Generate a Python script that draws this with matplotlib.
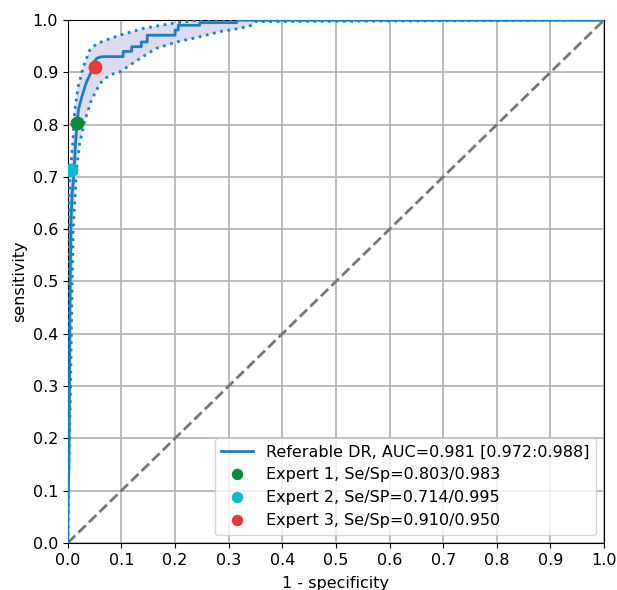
import matplotlib
matplotlib.use('Agg')
import matplotlib.pyplot as plt

# ROC curve
fpr = [0, 0.000, 0.002, 0.003, 0.004, 0.005, 0.006, 0.008, 0.010, 0.012, 0.014, 0.017,
       0.020, 0.026, 0.031, 0.035, 0.041, 0.045, 0.047, 0.054, 0.063, 0.103, 0.103,
       0.119, 0.119, 0.137, 0.137, 0.148, 0.148, 0.200, 0.200, 0.206, 0.206, 0.246,
       0.246, 0.315, 0.315, 1.0]
tpr = [0, 0.05, 0.15, 0.30, 0.45, 0.55, 0.62, 0.67, 0.69, 0.72, 0.76, 0.80,
       0.83, 0.853, 0.87, 0.882, 0.895, 0.905, 0.917, 0.927, 0.930, 0.930, 0.940,
       0.940, 0.949, 0.949, 0.958, 0.958, 0.971, 0.971, 0.981, 0.981, 0.990, 0.990,
       0.995, 0.995, 1.0, 1.0]

# confidence band
up_x = [0, 0.000, 0.002, 0.004, 0.009, 0.013, 0.019, 0.029, 0.041, 0.054, 0.072,
        0.097, 0.140, 0.197, 0.246, 1.0]
up_y = [0, 0.55, 0.637, 0.700, 0.764, 0.828, 0.872, 0.911, 0.943, 0.955, 0.962,
        0.971, 0.984, 0.994, 1.0, 1.0]
lo_x = [0, 0.001, 0.005, 0.008, 0.010, 0.015, 0.016, 0.022, 0.032, 0.044, 0.060,
        0.078, 0.097, 0.116, 0.140, 0.165, 0.203, 0.246, 0.284, 0.321, 0.343, 0.349, 1.0]
lo_y = [0, 0.10, 0.30, 0.50, 0.60, 0.694, 0.713, 0.764, 0.809, 0.847, 0.879,
        0.895, 0.901, 0.914, 0.930, 0.946, 0.958, 0.968, 0.978, 0.984, 0.990, 0.997, 1.0]

experts = ['Expert 1, Se/Sp=0.803/0.983', 'Expert 2, Se/SP=0.714/0.995',
           'Expert 3, Se/Sp=0.910/0.950']
exp_se = [0.803, 0.714, 0.910]
exp_sp = [0.983, 0.995, 0.950]
exp_col = ['#0a8a3c', '#12b8d2', '#e8383d']

blue = '#1a80c4'

fig = plt.figure(figsize=(6.17, 5.9), dpi=100)
ax = fig.add_axes([0.110, 0.080, 0.869, 0.886])

ax.fill(up_x + lo_x[::-1], up_y + lo_y[::-1], color='#dcdcee', lw=0, zorder=1)
ax.plot(up_x, up_y, ':', color=blue, lw=2, zorder=3)
ax.plot(lo_x, lo_y, ':', color=blue, lw=2, zorder=3)
ax.plot([0, 1], [0, 1], '--', color='#777777', lw=2, zorder=2)
ax.plot(fpr, tpr, color=blue, lw=2, zorder=4, label='Referable DR, AUC=0.981 [0.972:0.988]')
for lab, se, sp, c in zip(experts, exp_se, exp_sp, exp_col):
    ax.plot([1 - sp], [se], 'o', color=c, ms=9, zorder=5, label=lab)

ticks = [i / 10 for i in range(11)]
ax.set_xticks(ticks)
ax.set_yticks(ticks)
ax.set_xlim(0, 1)
ax.set_ylim(0, 1)
ax.tick_params(labelsize=11.5)
ax.grid(True, color='#b0b0b0', lw=1.2)
ax.set_axisbelow(True)
ax.set_xlabel('1 - specificity', fontsize=11.5, labelpad=6)
ax.set_ylabel('sensitivity', fontsize=11.5)
ax.legend(loc='lower right', fontsize=11.5, markerscale=0.8)

fig.savefig('out.png', dpi=100)
